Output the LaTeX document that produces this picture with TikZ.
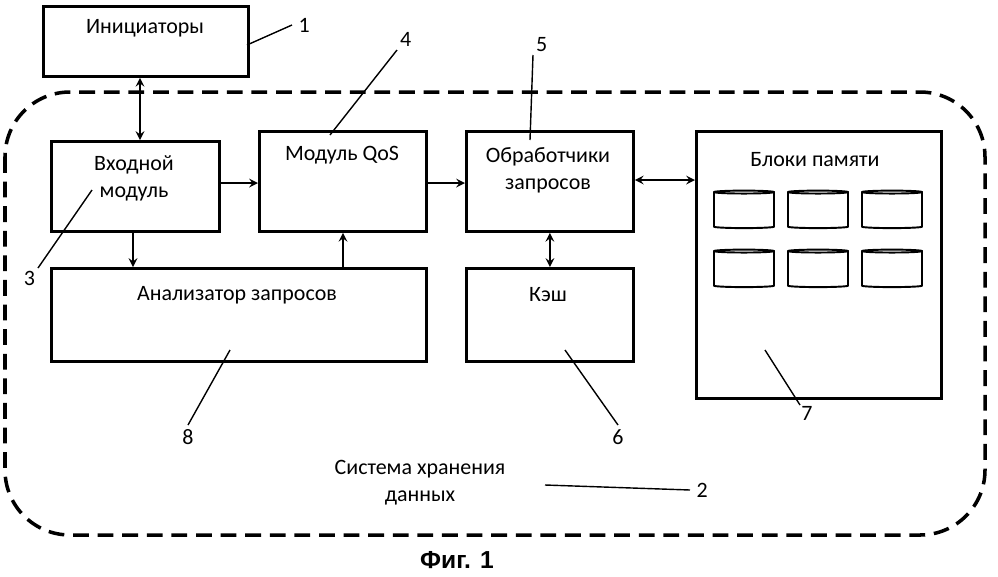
\documentclass[tikz,border=0pt]{standalone}
\usepackage{fontspec}
\setmainfont{Carlito}
\setsansfont{Liberation Sans}
\usetikzlibrary{shapes.geometric}
\tikzset{blk/.style={draw,line width=1.6pt,anchor=north west,align=center},
  txt/.style={font=\fontsize{12.5}{15.5}\selectfont},
  lead/.style={line width=0.8pt},
  num/.style={font=\fontsize{12.5}{14}\selectfont},
  disk/.style={draw,line width=1.1pt,cylinder,shape border rotate=90,aspect=0.25,
    minimum width=1.2cm,minimum height=0.75cm}}
\begin{document}
\begin{tikzpicture}[>=stealth,x=0.02cm,y=-0.02cm,line width=1.2pt]
\useasboundingbox (0,0) rectangle (998,576);
% dashed system border
\draw[dash pattern=on 9pt off 5pt,line width=2pt,rounded corners=1.3cm] (5,92) rectangle (985,535);
% blocks
\node[blk,minimum width=4.1cm,minimum height=1.4cm] (init) at (42,5) {};
\node[txt] at (145,28) {Инициаторы};
\node[blk,minimum width=3.36cm,minimum height=1.8cm] (inp) at (50,140) {};
\node[txt,align=center] at (134,178) {Входной\\модуль};
\node[blk,minimum width=3.34cm,minimum height=2cm] (qos) at (258,130) {};
\node[txt] at (342,155) {Модуль QoS};
\node[blk,minimum width=3.34cm,minimum height=2cm] (proc) at (465,130) {};
\node[txt,align=center] at (548,170) {Обработчики\\запросов};
\node[blk,minimum width=4.9cm,minimum height=5.34cm] (mem) at (695,130) {};
\node[txt] at (815,160) {Блоки памяти};
\node[blk,minimum width=7.5cm,minimum height=1.86cm] (anl) at (50,267) {};
\node[txt] at (237,295) {Анализатор запросов};
\node[blk,minimum width=3.34cm,minimum height=1.86cm] (cache) at (465,267) {};
\node[txt] at (548,295) {Кэш};
% memory disks
\foreach \dx/\dy [count=\i] in {744/211,818/211,892/211,744/270,818/270,892/270}
  \node[disk] (d\i) at (\dx,\dy) {};
% connectors
\draw[<->] (init.south -| 140,0) -- (inp.north -| 140,0);
\draw[->] (inp.east |- 0,183) -- (qos.west |- 0,183);
\draw[->] (qos.east |- 0,183) -- (proc.west |- 0,183);
\draw[<->] (proc.east |- 0,180) -- (mem.west |- 0,180);
\draw[<->] (proc.south) -- (cache.north);
\draw[->] (inp.south -| 133,0) -- (anl.north -| 133,0);
\draw[->] (anl.north -| 343,0) -- (qos.south -| 343,0);
% leaders and numbers
\draw[lead] (247,45) -- (292,25) node[num,right] {1};
\draw[lead] (330,135) -- (397,50) node[num,above right=-2pt] {4};
\draw[lead] (530,140) -- (533,55) node[num,above right=-2pt] {5};
\draw[lead] (92,190) -- (38,268) node[num,below left=-2pt] {3};
\draw[lead] (230,350) -- (188,425) node[num,below=-1pt] {8};
\draw[lead] (565,350) -- (618,425) node[num,below=-1pt] {6};
\draw[lead] (765,350) -- (800,405) node[num,below right=-3pt] {7};
\draw[lead] (545,485) -- (690,490) node[num,right] {2};
\node[txt,align=center] at (420,483) {Система хранения\\данных};
\node[font=\sffamily\bfseries\fontsize{14}{16}\selectfont] at (457,560) {Фиг. 1};
\end{tikzpicture}
\end{document}
